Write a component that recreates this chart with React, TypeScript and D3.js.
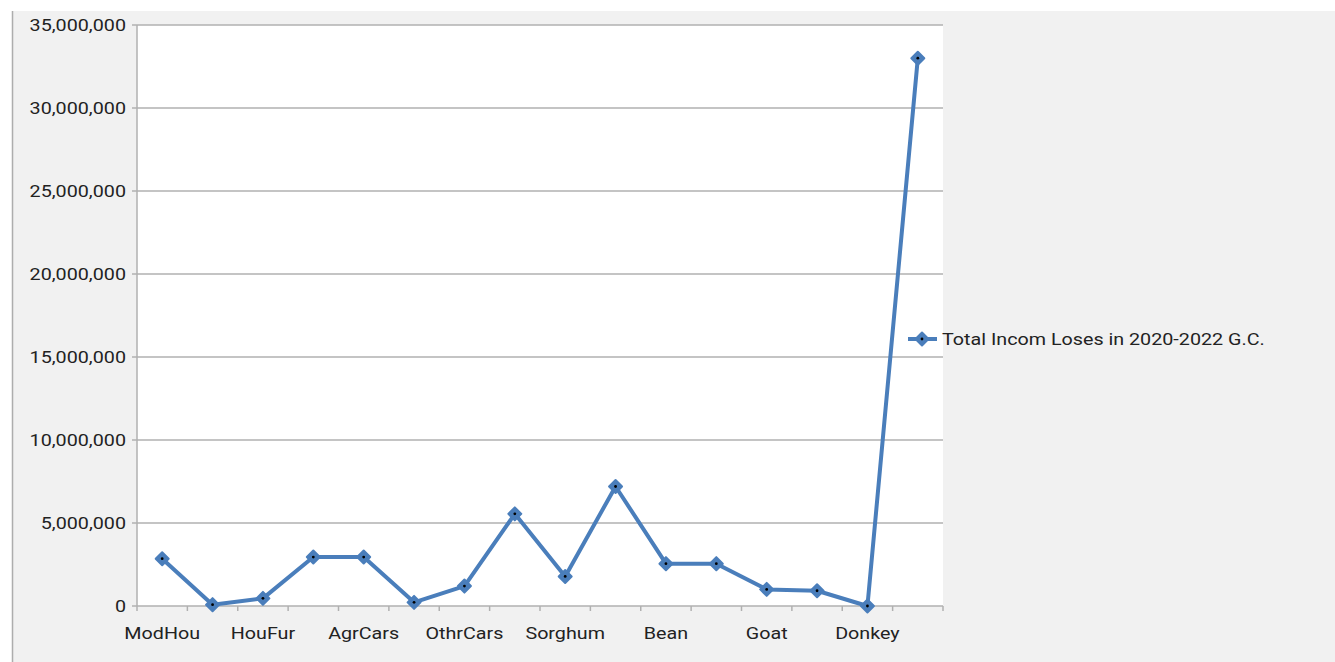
import React from "react";
import * as d3 from "d3";

// Loss categories (only every other one gets a visible label on the axis)
const categories = [
  "ModHou", "TradHou", "HouFur", "HouUtn", "AgrCars", "AgrTools", "OthrCars", "Teff",
  "Sorghum", "Maize", "Bean", "Pea", "Goat", "Sheep", "Donkey", "Cattle",
];
const totalLoss = [
  2850000, 80000, 460000, 2950000, 2950000, 220000, 1200000, 5550000,
  1780000, 7200000, 2550000, 2550000, 1000000, 920000, 0, 33000000,
];
const yTicks = [0, 5000000, 10000000, 15000000, 20000000, 25000000, 30000000, 35000000];
const seriesName = "Total Incom Loses in 2020-2022 G.C.";

const W = 1335;
const H = 662;
const plot = { left: 137, right: 943, top: 25, bottom: 606 };
const BLUE = "#4a7ebb";
const GRID = "#b0b0b0";
const FONT = "Roboto, 'Noto Sans', sans-serif";
const SX = 1.16; // horizontal text stretch

function Marker({ x, y }: { x: number; y: number }) {
  const r = 6.5;
  return (
    <g>
      <path
        d={`M${x},${y - r}L${x + r},${y}L${x},${y + r}L${x - r},${y}Z`}
        fill={BLUE}
        stroke={BLUE}
        strokeWidth={2}
        strokeLinejoin="round"
      />
      <circle cx={x} cy={y} r={1.4} fill="#000" />
    </g>
  );
}

function Label({ x, y, anchor, children }: { x: number; y: number; anchor: string; children: React.ReactNode }) {
  return (
    <text
      transform={`translate(${x},${y}) scale(${SX},1)`}
      textAnchor={anchor as any}
      fontFamily={FONT}
      fontSize={17}
      fill="#222"
    >
      {children}
    </text>
  );
}

export default function App() {
  const x = d3.scaleBand<string>().domain(categories).range([plot.left, plot.right]);
  const y = d3.scaleLinear().domain([0, 35000000]).range([plot.bottom, plot.top]);
  const cx = (c: string) => (x(c) as number) + x.bandwidth() / 2;
  const fmt = d3.format(",");

  const line = d3
    .line<number>()
    .x((_, i) => cx(categories[i]))
    .y((d) => y(d));

  const boundaries = d3.range(categories.length + 1).map((i) => plot.left + i * x.step());

  return (
    <div style={{ position: "absolute", left: 0, top: 0 }}>
      <svg width={W} height={H} style={{ display: "block" }}>
        <rect x={0} y={0} width={W} height={H} fill="#ffffff" />
        <rect x={13} y={11} width={W - 13} height={H - 11} fill="#f1f1f1" />
        <line x1={12.5} x2={12.5} y1={11} y2={H} stroke="#adadad" strokeWidth={1.5} />

        <rect x={plot.left} y={plot.top} width={plot.right - plot.left} height={plot.bottom - plot.top} fill="#ffffff" />

        {yTicks.map((t) => (
          <g key={t}>
            <line x1={plot.left - 5} x2={plot.right} y1={y(t)} y2={y(t)} stroke={GRID} strokeWidth={1.5} />
            <Label x={126} y={y(t) + 6} anchor="end">{fmt(t)}</Label>
          </g>
        ))}
        <line x1={plot.left} x2={plot.left} y1={plot.top} y2={plot.bottom} stroke={GRID} strokeWidth={1.5} />
        {boundaries.map((b, i) => (
          <line key={i} x1={b} x2={b} y1={plot.bottom} y2={plot.bottom + 5} stroke={GRID} strokeWidth={1.5} />
        ))}
        {categories.map((c, i) =>
          i % 2 === 0 ? (
            <Label key={c} x={cx(c)} y={639} anchor="middle">{c}</Label>
          ) : null
        )}

        <path d={line(totalLoss) || ""} fill="none" stroke={BLUE} strokeWidth={4} strokeLinejoin="round" />
        {totalLoss.map((v, i) => (
          <Marker key={i} x={cx(categories[i])} y={y(v)} />
        ))}

        <line x1={908} x2={937} y1={339} y2={339} stroke={BLUE} strokeWidth={4} />
        <Marker x={922} y={339} />
        <Label x={942} y={345} anchor="start">{seriesName}</Label>
      </svg>
    </div>
  );
}
